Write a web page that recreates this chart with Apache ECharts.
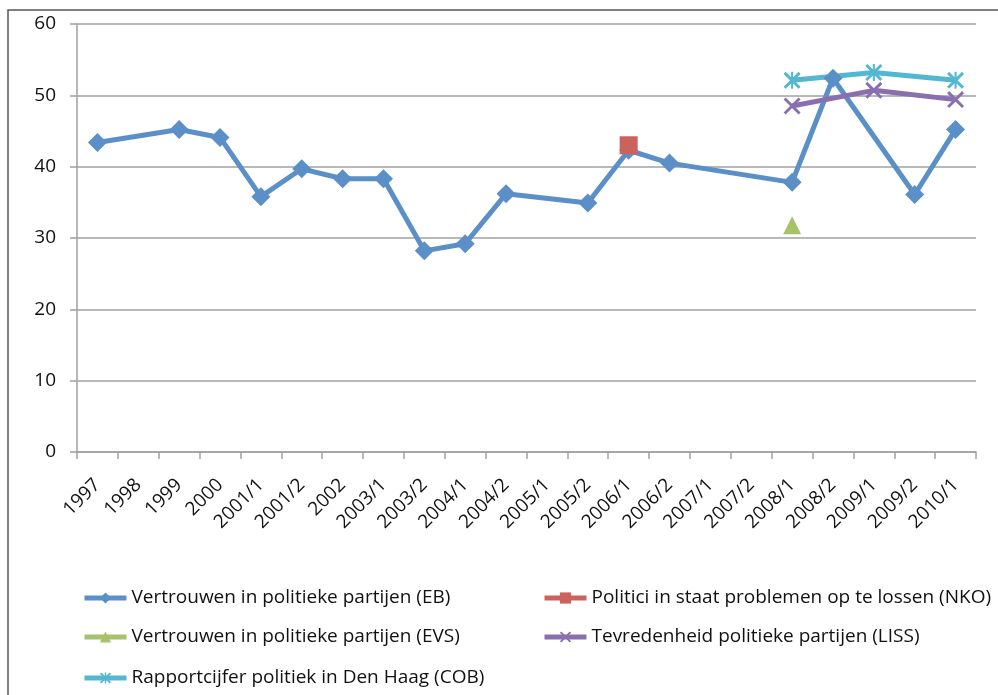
<!DOCTYPE html>
<html>
<head>
<meta charset="utf-8">
<script src="https://cdn.jsdelivr.net/npm/echarts@6/dist/echarts.min.js"></script>
<style>
  html, body { margin: 0; padding: 0; background: #fff; }
  #chart { width: 998px; height: 695px; }
</style>
</head>
<body>
<div id="chart"></div>
<script>
// categories on the x axis (survey waves)
const categories = ['1997', '1998', '1999', '2000', '2001/1', '2001/2', '2002', '2003/1', '2003/2',
    '2004/1', '2004/2', '2005/1', '2005/2', '2006/1', '2006/2', '2007/1', '2007/2',
    '2008/1', '2008/2', '2009/1', '2009/2', '2010/1'];

// series values, null where no measurement
const eb = [43.4, null, 45.2, 44.1, 35.8, 39.7, 38.3, 38.3, 28.2, 29.2, 36.2, null, 34.9,
    42.3, 40.5, null, null, 37.8, 52.4, null, 36.1, 45.2];
const nko = [null, null, null, null, null, null, null, null, null, null, null, null, null,
    43.0, null, null, null, null, null, null, null, null];
const evs = [null, null, null, null, null, null, null, null, null, null, null, null, null,
    null, null, null, null, 31.8, null, null, null, null];
const liss = [null, null, null, null, null, null, null, null, null, null, null, null, null,
    null, null, null, null, 48.5, null, 50.7, null, 49.4];
const cob = [null, null, null, null, null, null, null, null, null, null, null, null, null,
    null, null, null, null, 52.1, null, 53.2, null, 52.1];

const names = [
    'Vertrouwen in politieke partijen (EB)',
    'Politici in staat problemen op te lossen (NKO)',
    'Vertrouwen in politieke partijen (EVS)',
    'Tevredenheid politieke partijen (LISS)',
    'Rapportcijfer politiek in Den Haag (COB)'
];

const font = 'Open Sans';
const gray = '#a0a0a0';

// Excel-style markers
const xMark = 'path://M0,1.2 L1.2,0 L10,8.8 L8.8,10 Z M8.8,0 L10,1.2 L1.2,10 L0,8.8 Z';
const starMark = 'path://M0,1.2 L1.2,0 L10,8.8 L8.8,10 Z M8.8,0 L10,1.2 L1.2,10 L0,8.8 Z M4.4,0 L5.6,0 L5.6,10 L4.4,10 Z';

var chart = echarts.init(document.getElementById('chart'));

// one legend per entry so every row sits where it does in the picture
function legendAt(name, left, top) {
    return {
        left: left,
        top: top,
        padding: 0,
        itemWidth: 42,
        itemHeight: 14,
        lineStyle: { width: 5 },
        textStyle: { fontFamily: font, fontSize: 19, lineHeight: 20, color: '#111' },
        data: [name]
    };
}

const option = {
    animation: false,
    textStyle: { fontFamily: font },
    graphic: [{
        type: 'rect',
        shape: { x: 8, y: 10, width: 1000, height: 700 },
        style: { fill: 'none', stroke: '#555', lineWidth: 1.5 },
        z: -10
    }],
    grid: { left: 77, right: 22, top: 24, bottom: 243 },
    legend: [
        legendAt(names[0], 82, 588),
        legendAt(names[2], 82, 627),
        legendAt(names[4], 82, 668),
        legendAt(names[1], 542, 588),
        legendAt(names[3], 542, 627)
    ],
    xAxis: {
        type: 'category',
        data: categories,
        boundaryGap: true,
        axisLine: { lineStyle: { color: gray, width: 1.5 } },
        axisTick: { show: true, length: 7, lineStyle: { color: gray, width: 1.5 } },
        axisLabel: {
            interval: 0,
            rotate: 45,
            margin: 30,
            fontFamily: font,
            fontSize: 19,
            color: '#111'
        }
    },
    yAxis: {
        type: 'value',
        min: 0,
        max: 60,
        interval: 10,
        axisLine: { show: true, lineStyle: { color: gray, width: 1.5 } },
        axisTick: { show: true, length: 7, lineStyle: { color: gray, width: 1.5 } },
        splitLine: { lineStyle: { color: gray, width: 1.5 } },
        axisLabel: { margin: 21, fontFamily: font, fontSize: 19, color: '#111' }
    },
    series: [{
        name: names[0],
        type: 'line',
        data: eb,
        connectNulls: true,
        symbol: 'diamond',
        symbolSize: 19,
        color: '#5a8fc8',
        lineStyle: { width: 5 }
    }, {
        name: names[1],
        type: 'line',
        data: nko,
        symbol: 'rect',
        symbolSize: 18,
        color: '#cc625c',
        lineStyle: { width: 5 }
    }, {
        name: names[2],
        type: 'line',
        data: evs,
        symbol: 'triangle',
        symbolSize: 18,
        color: '#a6c36b',
        lineStyle: { width: 5 }
    }, {
        name: names[3],
        type: 'line',
        data: liss,
        connectNulls: true,
        symbol: xMark,
        symbolSize: 17,
        color: '#8a6fb0',
        lineStyle: { width: 5 }
    }, {
        name: names[4],
        type: 'line',
        data: cob,
        connectNulls: true,
        symbol: starMark,
        symbolSize: 17,
        color: '#52b7d0',
        lineStyle: { width: 5 }
    }]
};

chart.setOption(option);
</script>
</body>
</html>
